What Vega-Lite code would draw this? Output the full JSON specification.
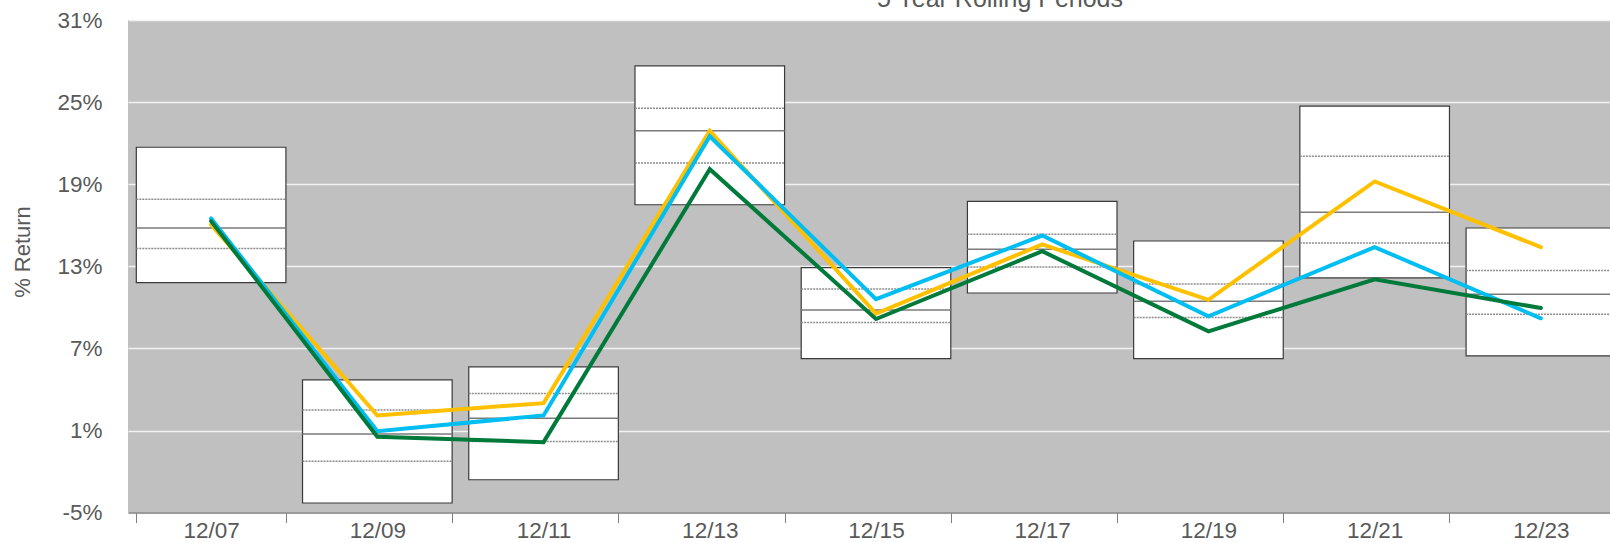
{
  "$schema": "https://vega.github.io/schema/vega-lite/v6.json",
  "width": 1482,
  "height": 492.6,
  "autosize": {"type": "none"},
  "padding": {"left": 128, "top": 20, "right": 0, "bottom": 30.4},
  "background": "white",
  "config": {
    "view": {"fill": "#c0c0c0", "stroke": null},
    "font": "Liberation Sans"
  },
  "title": {
    "text": "5 Year Rolling Periods",
    "fontSize": 25,
    "fontWeight": "normal",
    "color": "#595959",
    "anchor": "middle",
    "frame": "group",
    "baseline": "alphabetic",
    "offset": 0,
    "dy": 23,
    "dx": 131
  },
  "datasets": {
    "boxes": [
      {"period": "12/07", "p95": 21.7, "p75": 17.9, "p50": 15.8, "p25": 14.3, "p5": 11.8},
      {"period": "12/09", "p95": 4.7, "p75": 2.5, "p50": 0.75, "p25": -1.25, "p5": -4.3},
      {"period": "12/11", "p95": 5.65, "p75": 3.7, "p50": 1.9, "p25": 0.2, "p5": -2.6},
      {"period": "12/13", "p95": 27.65, "p75": 24.55, "p50": 22.9, "p25": 20.55, "p5": 17.5},
      {"period": "12/15", "p95": 12.9, "p75": 11.35, "p50": 9.8, "p25": 8.9, "p5": 6.25},
      {"period": "12/17", "p95": 17.75, "p75": 15.35, "p50": 14.25, "p25": 12.95, "p5": 11.05},
      {"period": "12/19", "p95": 14.85, "p75": 11.7, "p50": 10.45, "p25": 9.25, "p5": 6.25},
      {"period": "12/21", "p95": 24.7, "p75": 21.05, "p50": 16.95, "p25": 14.7, "p5": 12.15},
      {"period": "12/23", "p95": 15.8, "p75": 12.7, "p50": 10.95, "p25": 9.5, "p5": 6.45}
    ],
    "lines": [
      {"period": "12/07", "series": "Series 1", "value": 16.05},
      {"period": "12/09", "series": "Series 1", "value": 2.1},
      {"period": "12/11", "series": "Series 1", "value": 3.0},
      {"period": "12/13", "series": "Series 1", "value": 22.9},
      {"period": "12/15", "series": "Series 1", "value": 9.55},
      {"period": "12/17", "series": "Series 1", "value": 14.6},
      {"period": "12/19", "series": "Series 1", "value": 10.55},
      {"period": "12/21", "series": "Series 1", "value": 19.2},
      {"period": "12/23", "series": "Series 1", "value": 14.4},
      {"period": "12/07", "series": "Series 2", "value": 16.5},
      {"period": "12/09", "series": "Series 2", "value": 0.95},
      {"period": "12/11", "series": "Series 2", "value": 2.1},
      {"period": "12/13", "series": "Series 2", "value": 22.5},
      {"period": "12/15", "series": "Series 2", "value": 10.6},
      {"period": "12/17", "series": "Series 2", "value": 15.25},
      {"period": "12/19", "series": "Series 2", "value": 9.35},
      {"period": "12/21", "series": "Series 2", "value": 14.4},
      {"period": "12/23", "series": "Series 2", "value": 9.2},
      {"period": "12/07", "series": "Series 3", "value": 16.3},
      {"period": "12/09", "series": "Series 3", "value": 0.55},
      {"period": "12/11", "series": "Series 3", "value": 0.15},
      {"period": "12/13", "series": "Series 3", "value": 20.1},
      {"period": "12/15", "series": "Series 3", "value": 9.15},
      {"period": "12/17", "series": "Series 3", "value": 14.1},
      {"period": "12/19", "series": "Series 3", "value": 8.25},
      {"period": "12/21", "series": "Series 3", "value": 12.05},
      {"period": "12/23", "series": "Series 3", "value": 9.95}
    ]
  },
  "encoding": {
    "x": {
      "field": "period",
      "type": "ordinal",
      "scale": {"range": [0, 1496], "paddingInner": 0.1, "paddingOuter": 0.05},
      "axis": {
        "title": null,
        "labelAngle": 0,
        "labelFontSize": 22.5,
        "labelColor": "#595959",
        "labelBaseline": "alphabetic",
        "labelPadding": 14.5,
        "domainColor": "#808080",
        "domainWidth": 1.5,
        "tickColor": "#808080",
        "tickWidth": 1,
        "tickSize": 10,
        "tickBand": "extent",
        "grid": false
      }
    }
  },
  "layer": [
    {
      "data": {"name": "boxes"},
      "mark": {"type": "bar", "fill": "white", "stroke": "#3a3a3a", "strokeWidth": 1.2},
      "encoding": {
        "y": {
          "field": "p5",
          "type": "quantitative",
          "scale": {"domain": [-5, 31], "nice": false, "zero": false},
          "axis": {
            "values": [-5, 1, 7, 13, 19, 25, 31],
            "labelExpr": "datum.value + '%'",
            "domain": false,
            "ticks": false,
            "labelPadding": 26,
            "labelFontSize": 22.5,
            "labelColor": "#595959",
            "gridColor": "#f2f2f2",
            "gridWidth": 1.5,
            "title": "% Return",
            "titleFontSize": 22,
            "titleFontWeight": "normal",
            "titleColor": "#595959",
            "titleAngle": -90,
            "titleX": -106,
            "titleY": 231.5,
            "titleAlign": "center",
            "titleBaseline": "middle"
          }
        },
        "y2": {"field": "p95"}
      }
    },
    {
      "data": {"name": "boxes"},
      "mark": {"type": "rule", "stroke": "#8c8c8c", "strokeWidth": 1.5, "strokeDash": [2, 1]},
      "encoding": {
        "x": {"field": "period", "type": "ordinal", "bandPosition": 0},
        "x2": {"field": "period", "bandPosition": 1},
        "y": {"field": "p75", "type": "quantitative"}
      }
    },
    {
      "data": {"name": "boxes"},
      "mark": {"type": "rule", "stroke": "#8c8c8c", "strokeWidth": 1.5, "strokeDash": [2, 1]},
      "encoding": {
        "x": {"field": "period", "type": "ordinal", "bandPosition": 0},
        "x2": {"field": "period", "bandPosition": 1},
        "y": {"field": "p25", "type": "quantitative"}
      }
    },
    {
      "data": {"name": "boxes"},
      "mark": {"type": "rule", "stroke": "#7a7a7a", "strokeWidth": 1.5},
      "encoding": {
        "x": {"field": "period", "type": "ordinal", "bandPosition": 0},
        "x2": {"field": "period", "bandPosition": 1},
        "y": {"field": "p50", "type": "quantitative"}
      }
    },
    {
      "data": {"name": "lines"},
      "mark": {"type": "line", "strokeWidth": 4, "strokeCap": "round", "strokeJoin": "miter"},
      "encoding": {
        "y": {"field": "value", "type": "quantitative"},
        "color": {
          "field": "series",
          "type": "nominal",
          "scale": {"domain": ["Series 1", "Series 2", "Series 3"], "range": ["#FFC000", "#00BEF2", "#007A3A"]},
          "legend": null
        }
      }
    }
  ]
}
